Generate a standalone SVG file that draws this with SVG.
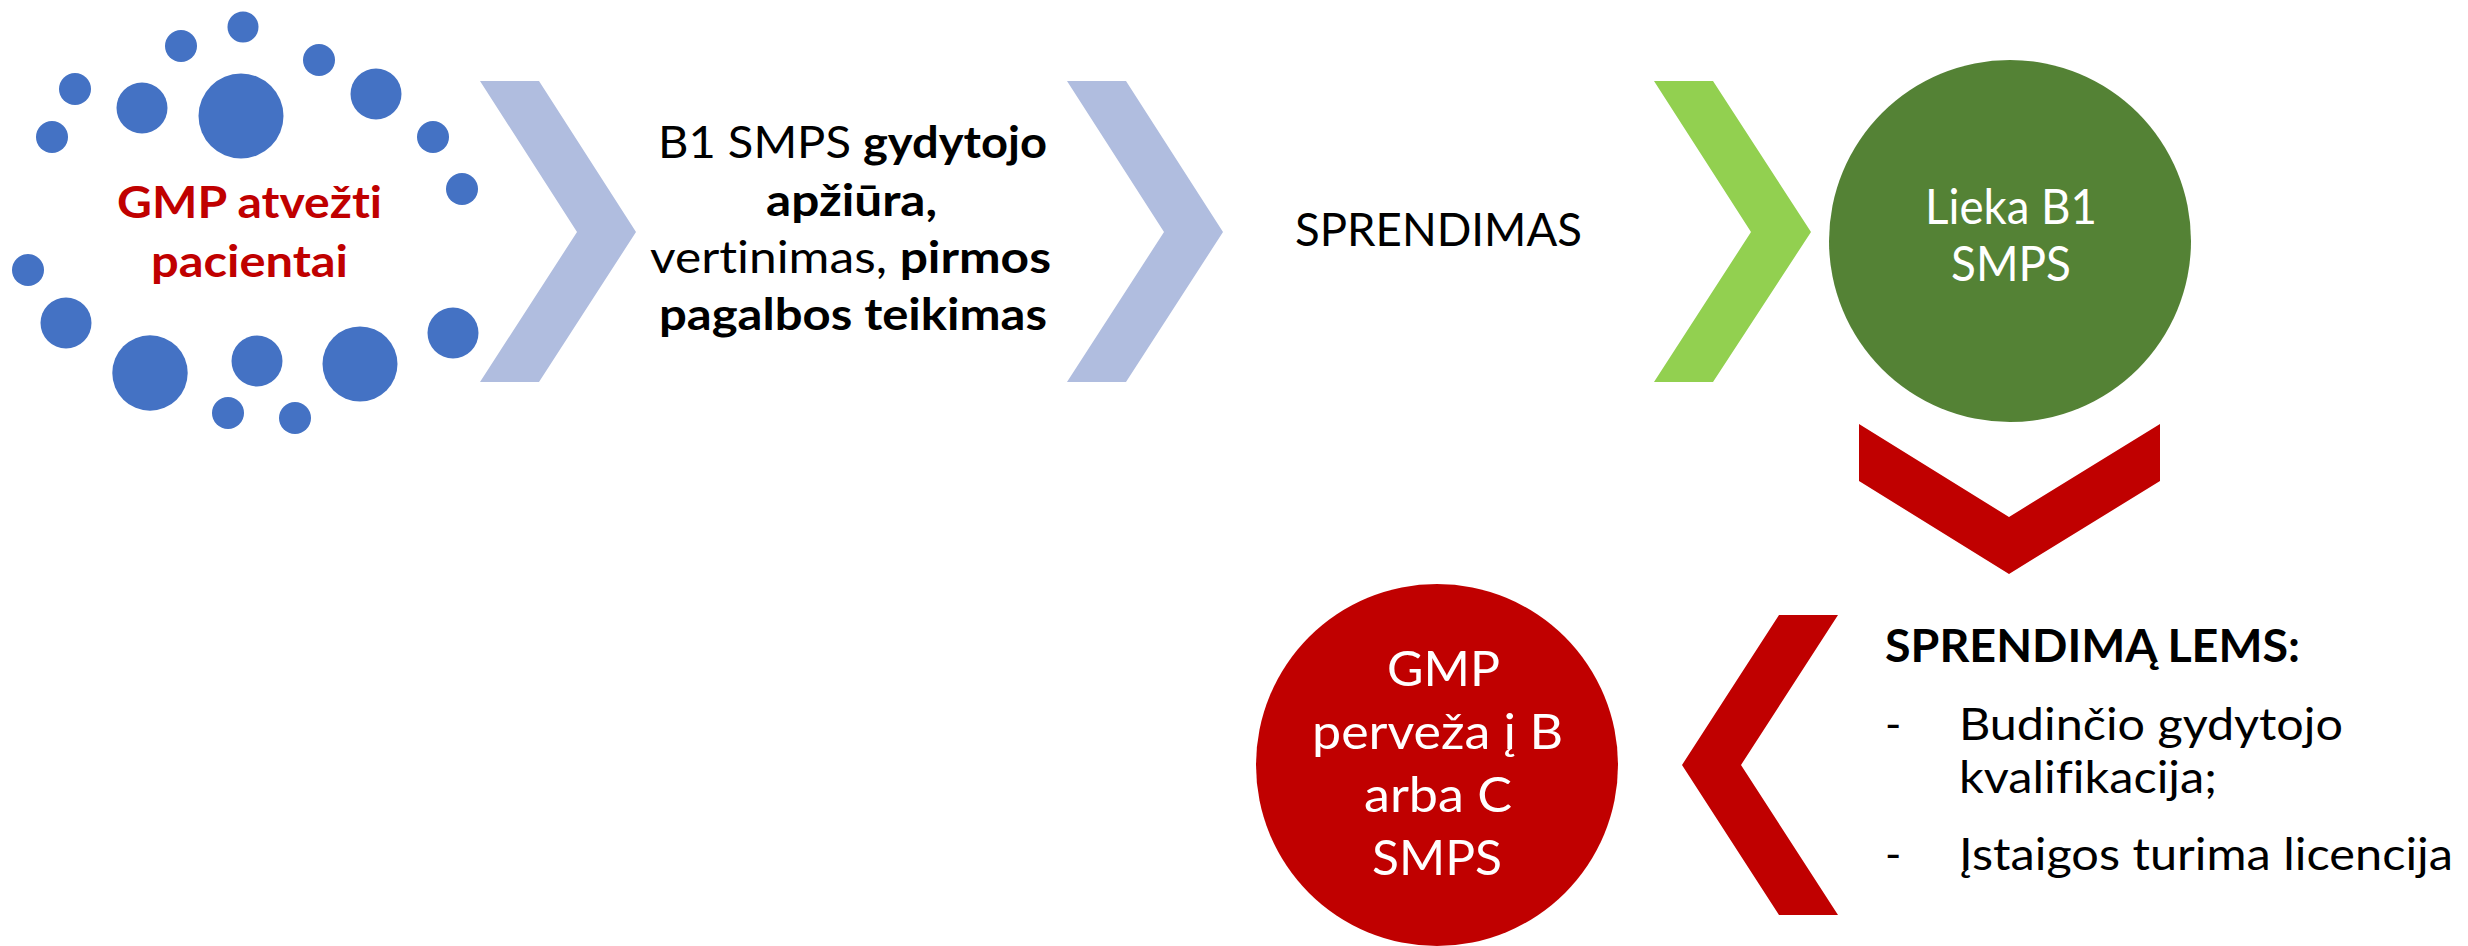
<svg xmlns="http://www.w3.org/2000/svg" width="2468" height="946" viewBox="0 0 2468 946">
<style>
.dot{fill:#4472C4}
.t{font-family:Lato,"Open Sans","Liberation Sans",sans-serif;font-variant-ligatures:none}
.b{font-weight:bold}
.c{text-anchor:middle}
.blk{fill:#000}
.wht{fill:#fff}
.red{fill:#C00000}
.chev-blue{fill:#B0BDDF}
.chev-green{fill:#92D050}
.chev-red{fill:#C00000}
</style>
<rect width="2468" height="946" fill="#fff"/>
<g id="patients">
<circle class="dot" cx="243" cy="27" r="15.5"/>
<circle class="dot" cx="181" cy="46" r="16"/>
<circle class="dot" cx="319" cy="60" r="16"/>
<circle class="dot" cx="75" cy="89" r="16"/>
<circle class="dot" cx="142" cy="108" r="25.5"/>
<circle class="dot" cx="241" cy="116" r="42.5"/>
<circle class="dot" cx="376" cy="94" r="25.5"/>
<circle class="dot" cx="52" cy="137" r="16"/>
<circle class="dot" cx="433" cy="137" r="16"/>
<circle class="dot" cx="462" cy="189" r="16"/>
<circle class="dot" cx="28" cy="270" r="16"/>
<circle class="dot" cx="66" cy="323" r="25.5"/>
<circle class="dot" cx="150" cy="373" r="37.7"/>
<circle class="dot" cx="257" cy="361" r="25.5"/>
<circle class="dot" cx="360" cy="364" r="37.5"/>
<circle class="dot" cx="453" cy="333" r="25.5"/>
<circle class="dot" cx="228" cy="413" r="16"/>
<circle class="dot" cx="295" cy="418" r="16"/>
<text class="t b c red" x="249.5" y="218" font-size="44" textLength="265" lengthAdjust="spacingAndGlyphs">GMP atvežti</text>
<text class="t b c red" x="249.5" y="277" font-size="44" textLength="197" lengthAdjust="spacingAndGlyphs">pacientai</text>
</g>
<g id="connectors">
<polygon class="chev-blue" points="480,81 539,81 636,232 539,382 480,382 577,232"/>
<polygon class="chev-blue" points="1067,81 1126,81 1223,232 1126,382 1067,382 1164,232"/>
<polygon class="chev-green" points="1654,81 1713,81 1811,232 1713,382 1654,382 1751,232"/>
<polygon class="chev-red" points="1859,424 2009,517 2160,424 2160,481 2009,574 1859,481"/>
<polygon class="chev-red" points="1779,615 1838,615 1741,765 1838,915 1779,915 1682,765"/>
</g>
<g id="b1-exam">
<text class="t c blk" x="852.5" y="158" font-size="44" textLength="389" lengthAdjust="spacingAndGlyphs">B1 SMPS <tspan class="b">gydytojo</tspan></text>
<text class="t b c blk" x="851.5" y="216" font-size="44" textLength="171" lengthAdjust="spacingAndGlyphs">apžiūra,</text>
<text class="t c blk" x="850.5" y="273" font-size="44" textLength="401" lengthAdjust="spacingAndGlyphs">vertinimas, <tspan class="b">pirmos</tspan></text>
<text class="t b c blk" x="853" y="330" font-size="44" textLength="388" lengthAdjust="spacingAndGlyphs">pagalbos teikimas</text>
</g>
<g id="decision">
<text class="t c blk" x="1438.5" y="246" font-size="46" textLength="287" lengthAdjust="spacingAndGlyphs">SPRENDIMAS</text>
</g>
<g id="stays-b1">
<circle cx="2010" cy="241" r="181" fill="#548235"/>
<text class="t c wht" x="2011" y="224" font-size="48" textLength="172" lengthAdjust="spacingAndGlyphs">Lieka B1</text>
<text class="t c wht" x="2011" y="281" font-size="48" textLength="120" lengthAdjust="spacingAndGlyphs">SMPS</text>
</g>
<g id="transfer">
<circle cx="1437" cy="765" r="181" fill="#C00000"/>
<text class="t c wht" x="1443.5" y="686" font-size="48" textLength="113" lengthAdjust="spacingAndGlyphs">GMP</text>
<text class="t c wht" x="1437.5" y="749" font-size="48" textLength="251" lengthAdjust="spacingAndGlyphs">perveža į B</text>
<text class="t c wht" x="1438" y="812" font-size="48" textLength="148" lengthAdjust="spacingAndGlyphs">arba C</text>
<text class="t c wht" x="1437" y="875" font-size="48" textLength="130" lengthAdjust="spacingAndGlyphs">SMPS</text>
</g>
<g id="factors">
<text class="t b blk" x="1885" y="662" font-size="45" textLength="415" lengthAdjust="spacingAndGlyphs">SPRENDIMĄ LEMS:</text>
<text class="t blk" x="1885" y="740" font-size="44">-</text>
<text class="t blk" x="1959" y="740" font-size="44" textLength="384" lengthAdjust="spacingAndGlyphs">Budinčio gydytojo</text>
<text class="t blk" x="1959" y="793" font-size="44" textLength="258" lengthAdjust="spacingAndGlyphs">kvalifikacija;</text>
<text class="t blk" x="1885" y="870" font-size="44">-</text>
<text class="t blk" x="1959" y="870" font-size="44" textLength="494" lengthAdjust="spacingAndGlyphs">Įstaigos turima licencija</text>
</g>
</svg>
